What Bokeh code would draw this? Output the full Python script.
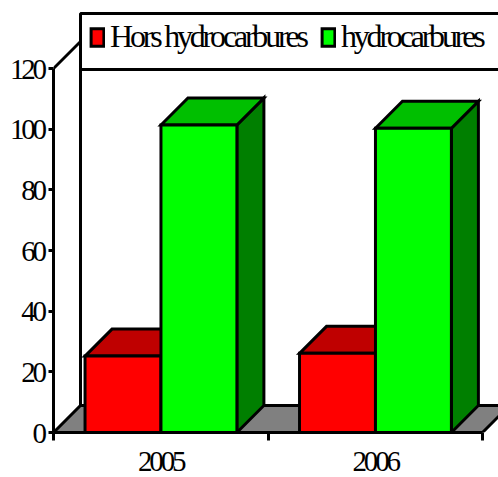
from bokeh.plotting import figure
from bokeh.models import (LinearAxis, Range1d, FixedTicker, Legend, LegendItem, BoxAnnotation)
from bokeh.embed import file_html
from bokeh.resources import INLINE

years = ["2005", "2006"]
hors_hydrocarbures = [25.2, 26.1]
hydrocarbures = [101.4, 100.3]
y_ticks = [0, 20, 40, 60, 80, 100, 120]

FONT = "Liberation Serif"
DX = 27 / 214.5      # depth, x units
DY = 27 / 3.033      # depth, y units
BW = 0.354
START = 0.147
LW = 3
SP = 3.2             # tightened letter spacing, px

p = figure(width=498, height=477, toolbar_location=None, output_backend="svg",
           x_range=Range1d(0, 445 / 214.5), y_range=Range1d(0, 432 / 3.033),
           x_axis_type=None, y_axis_type=None,
           min_border_left=53, min_border_right=0, min_border_top=0, min_border_bottom=45,
           frame_width=445, frame_height=432,
           outline_line_color=None, background_fill_color="white", border_fill_color="white",
           styles={"letter-spacing": f"-{SP}px"})
p.grid.visible = False

# Labels are start-anchored from their untightened width, so nudge them back to centre.
nudge = 6.3 / 214.5
xaxis = LinearAxis(ticker=FixedTicker(ticks=[0.5 + nudge, 1.5 + nudge], minor_ticks=[0, 1, 2]),
                   bounds=(0, 2),
                   major_label_overrides={0.5 + nudge: years[0], 1.5 + nudge: years[1]},
                   major_tick_out=0, major_tick_in=0, minor_tick_out=8, minor_tick_in=0,
                   axis_line_width=LW, minor_tick_line_width=LW, axis_line_color="black",
                   minor_tick_line_color="black", major_label_standoff=11,
                   major_label_text_font=FONT, major_label_text_font_size="29px",
                   major_label_text_color="black")
p.add_layout(xaxis, "below")

# Leading no-break spaces keep the tightened labels right-aligned.
width = max(len(str(t)) for t in y_ticks)
y_labels = {t: "\u00a0" * (width - len(str(t))) + str(t) for t in y_ticks}
yaxis = LinearAxis(ticker=FixedTicker(ticks=y_ticks), bounds=(0, 120),
                   major_label_overrides=y_labels,
                   major_tick_out=5, major_tick_in=0, minor_tick_out=0, minor_tick_in=0,
                   axis_line_width=LW, major_tick_line_width=LW, axis_line_color="black",
                   major_tick_line_color="black", major_label_standoff=-5,
                   major_label_text_font=FONT, major_label_text_font_size="29px",
                   major_label_text_color="black")
p.add_layout(yaxis, "left")

n = len(years)
# floor
p.patch([0, n, n + DX, DX], [0, 0, DY, DY], fill_color="#808080", line_color="black", line_width=LW, line_join="miter")
# back wall edges
p.line([0, DX, DX], [y_ticks[-1], y_ticks[-1] + DY, DY], line_color="black", line_width=LW, line_join="miter")

def bar(x0, v, front, top, side):
    x1 = x0 + BW
    p.patch([x1, x1 + DX, x1 + DX, x1], [0, DY, v + DY, v], fill_color=side, line_color="black", line_width=LW, line_join="miter")
    p.patch([x0, x0 + DX, x1 + DX, x1], [v, v + DY, v + DY, v], fill_color=top, line_color="black", line_width=LW, line_join="miter")
    return p.quad(left=[x0], right=[x1], bottom=[0], top=[v], fill_color=front, line_color="black", line_width=LW, line_join="miter")

r_red = r_green = None
for i in range(n):
    r_red = bar(i + START, hors_hydrocarbures[i], "#ff0000", "#bf0000", "#7f0000")
    r_green = bar(i + START + BW, hydrocarbures[i], "#00ff00", "#00bf00", "#007f00")

# legend box
p.add_layout(BoxAnnotation(left=DX, right=2.3, bottom=(432 - 69) / 3.033, top=(432 - 13) / 3.033,
                           fill_color="white", fill_alpha=1, line_color="black", line_alpha=1, line_width=LW))

def legend(label, renderer, x):
    lg = Legend(items=[LegendItem(label=label, renderers=[renderer])], location=(x, 377),
                orientation="horizontal", glyph_width=16, glyph_height=22, label_standoff=5,
                label_text_font=FONT, label_text_font_size="32px", label_text_color="black",
                label_height=21, padding=0, margin=0, spacing=0,
                border_line_color=None, background_fill_alpha=0)
    p.add_layout(lg, "center")

legend("Hors hydrocarbures", r_red, 36)
legend("hydrocarbures", r_green, 267)

open("out.html", "w").write(file_html(p, INLINE))
